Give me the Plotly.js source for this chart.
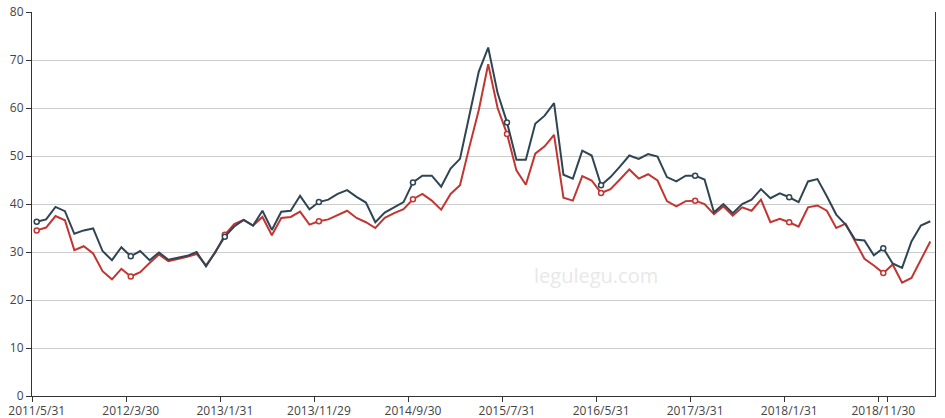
<!DOCTYPE html>
<html>
<head>
<meta charset="utf-8">
<script src="https://cdn.plot.ly/plotly-3.0.1.min.js"></script>
<style>
  html, body { margin: 0; padding: 0; background: #fff; }
  #chart { width: 945px; height: 418px; }
</style>
</head>
<body>
<div id="chart"></div>
<script>
// Month-end trading dates (categories)
var dates = [
  "2011/5/31","2011/6/30","2011/7/29","2011/8/31","2011/9/30","2011/10/31","2011/11/30","2011/12/30",
  "2012/1/31","2012/2/29","2012/3/30","2012/4/27","2012/5/31","2012/6/29","2012/7/31","2012/8/31","2012/9/28","2012/10/31","2012/11/30","2012/12/31",
  "2013/1/31","2013/2/28","2013/3/29","2013/4/26","2013/5/31","2013/6/28","2013/7/31","2013/8/30","2013/9/30","2013/10/31","2013/11/29","2013/12/31",
  "2014/1/30","2014/2/28","2014/3/31","2014/4/30","2014/5/30","2014/6/30","2014/7/31","2014/8/29","2014/9/30","2014/10/31","2014/11/28","2014/12/31",
  "2015/1/30","2015/2/27","2015/3/31","2015/4/30","2015/5/29","2015/6/30","2015/7/31","2015/8/31","2015/9/30","2015/10/30","2015/11/30","2015/12/31",
  "2016/1/29","2016/2/29","2016/3/31","2016/4/29","2016/5/31","2016/6/30","2016/7/29","2016/8/31","2016/9/30","2016/10/31","2016/11/30","2016/12/30",
  "2017/1/26","2017/2/28","2017/3/31","2017/4/28","2017/5/31","2017/6/30","2017/7/31","2017/8/31","2017/9/29","2017/10/31","2017/11/30","2017/12/29",
  "2018/1/31","2018/2/28","2018/3/30","2018/4/27","2018/5/31","2018/6/29","2018/7/31","2018/8/31","2018/9/28","2018/10/31","2018/11/30","2018/12/28",
  "2019/1/31","2019/2/28","2019/3/29","2019/4/30"
];

// Dark series
var seriesDark = [
  36.3,36.8,39.4,38.5,33.8,34.5,34.9,30.2,28.3,31.0,
  29.1,30.2,28.3,29.9,28.4,28.8,29.2,30.0,27.0,30.1,
  33.2,35.3,36.7,35.5,38.6,34.6,38.4,38.6,41.7,38.9,
  40.4,40.9,42.1,42.9,41.5,40.3,36.2,38.2,39.3,40.4,
  44.5,45.9,45.9,43.6,47.4,49.4,58.5,67.6,72.6,63.1,
  57.0,49.2,49.2,56.7,58.4,61.0,46.1,45.3,51.1,50.1,
  43.9,45.6,47.8,50.1,49.4,50.4,49.9,45.6,44.7,45.9,
  45.9,45.1,38.3,40.0,38.1,40.0,40.9,43.1,41.2,42.2,
  41.4,40.4,44.7,45.2,41.6,37.8,35.7,32.6,32.4,29.3,
  30.8,27.6,26.7,32.2,35.5,36.4
];

// Red series
var seriesRed = [
  34.5,35.1,37.5,36.6,30.4,31.2,29.7,26.0,24.3,26.5,
  24.9,25.8,27.7,29.5,28.1,28.5,29.0,29.6,27.2,29.9,
  33.6,35.8,36.7,35.5,37.3,33.5,37.1,37.3,38.4,35.7,
  36.4,36.8,37.7,38.6,37.1,36.2,35.0,37.1,38.1,38.9,
  41.0,42.1,40.7,38.8,42.1,43.9,51.9,59.6,69.1,60.0,
  54.6,47.0,44.0,50.5,52.0,54.4,41.3,40.7,45.8,44.9,
  42.3,43.1,45.1,47.2,45.3,46.2,44.9,40.6,39.5,40.6,
  40.7,40.0,37.9,39.5,37.6,39.3,38.6,40.9,36.2,36.9,
  36.2,35.3,39.3,39.7,38.6,35.0,35.9,32.2,28.6,27.2,
  25.6,27.4,23.6,24.6,28.4,32.2
];

// Labeled ticks on the x axis
var tickLabels = ["2011/5/31","2012/3/30","2013/1/31","2013/11/29","2014/9/30",
                  "2015/7/31","2016/5/31","2017/3/31","2018/1/31","2018/11/30"];

var markerOpacity = dates.map(function (d, i) { return i % 10 === 0 ? 1 : 0; });

function makeTrace(y, color) {
  return {
    type: 'scatter',
    mode: 'lines+markers',
    x: dates,
    y: y,
    line: { color: color, width: 2 },
    marker: {
      symbol: 'circle',
      size: 5,
      color: '#ffffff',
      opacity: markerOpacity,
      line: { color: color, width: 1.5 }
    },
    hoverinfo: 'skip',
    showlegend: false
  };
}

var data = [makeTrace(seriesRed, '#c23531'), makeTrace(seriesDark, '#2f4554')];

var layout = {
  width: 945,
  height: 418,
  margin: { l: 31.5, r: 9.5, t: 12, b: 22, pad: 0 },
  paper_bgcolor: '#ffffff',
  plot_bgcolor: '#ffffff',
  font: { family: 'Open Sans, DejaVu Sans, sans-serif', size: 12, color: '#444' },
  showlegend: false,
  xaxis: {
    type: 'category',
    range: [-0.5, dates.length - 0.5],
    tickmode: 'array',
    tickvals: tickLabels,
    ticktext: tickLabels,
    tickson: 'boundaries',
    tickangle: 0,
    ticklabelstandoff: 4,
    automargin: false,
    ticks: 'outside',
    ticklen: 5,
    tickwidth: 1,
    tickcolor: '#333',
    showline: true,
    linecolor: '#333',
    linewidth: 1,
    showgrid: false,
    zeroline: false,
    tickfont: { size: 12, color: '#444' },
    fixedrange: true
  },
  yaxis: {
    range: [0, 80],
    tickmode: 'linear',
    tick0: 0,
    dtick: 10,
    ticks: 'outside',
    ticklen: 5,
    tickwidth: 1,
    tickcolor: '#333',
    showline: true,
    mirror: true,
    linecolor: '#333',
    linewidth: 1,
    showgrid: true,
    gridcolor: '#cccccc',
    gridwidth: 1,
    zeroline: false,
    automargin: false,
    tickfont: { size: 12, color: '#444' },
    fixedrange: true
  },
  annotations: [{
    text: 'legulegu.com',
    xref: 'paper', yref: 'paper',
    x: 0.625, y: 0.315,
    xanchor: 'center', yanchor: 'middle',
    showarrow: false,
    font: { size: 20, color: '#e8e8e8', family: 'Open Sans, DejaVu Sans, sans-serif' }
  }]
};

Plotly.newPlot('chart', data, layout, { displayModeBar: false, staticPlot: true });
</script>
</body>
</html>
